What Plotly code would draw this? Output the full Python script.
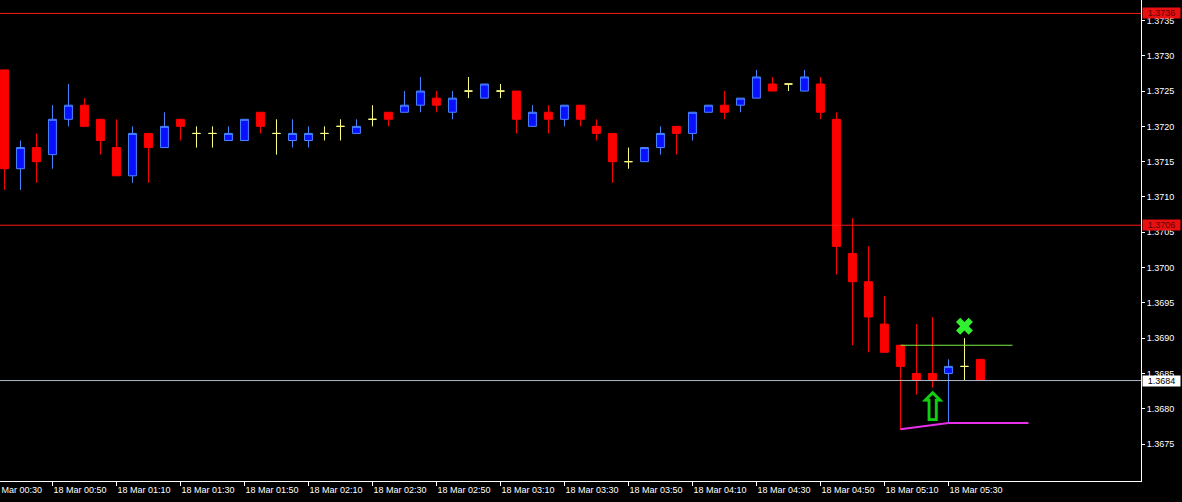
import pandas as pd
import plotly.graph_objects as go

# ---- data (5-minute bars, 18 Mar) ----
times = pd.date_range("2014-03-18 00:35", periods=62, freq="5min")
opens = [1.3728, 1.3714, 1.3717, 1.3716, 1.3721, 1.3723, 1.3721, 1.3717, 1.3713, 1.3719,
         1.3717, 1.3721, 1.3719, 1.3719, 1.3718, 1.3718, 1.3722, 1.3719, 1.3718, 1.3718,
         1.3719, 1.3720, 1.3719, 1.3721, 1.3722, 1.3722, 1.3723, 1.3724, 1.3722, 1.3725,
         1.3724, 1.3725, 1.3725, 1.3720, 1.3722, 1.3721, 1.3723, 1.3720, 1.3719, 1.3715,
         1.3715, 1.3717, 1.3720, 1.3719, 1.3722, 1.3723, 1.3723, 1.3724, 1.3726, 1.3726,
         1.3725, 1.3726, 1.3721, 1.3702, 1.3698, 1.3692, 1.3689, 1.3685, 1.3685, 1.3685,
         1.3686, 1.3687]
highs = [1.3728, 1.3718, 1.3719, 1.3723, 1.3726, 1.3724, 1.3721, 1.3721, 1.3720, 1.3719,
         1.3722, 1.3721, 1.3720, 1.3720, 1.3720, 1.3721, 1.3722, 1.3721, 1.3721, 1.3720,
         1.3720, 1.3721, 1.3721, 1.3723, 1.3722, 1.3725, 1.3727, 1.3725, 1.3725, 1.3727,
         1.3726, 1.3726, 1.3725, 1.3723, 1.3723, 1.3723, 1.3723, 1.3721, 1.3719, 1.3717,
         1.3717, 1.3720, 1.3720, 1.3722, 1.3723, 1.3725, 1.3724, 1.3728, 1.3727, 1.3726,
         1.3728, 1.3727, 1.3722, 1.3707, 1.3703, 1.3696, 1.3689, 1.3692, 1.3693, 1.3687,
         1.3690, 1.3687]
lows = [1.3711, 1.3711, 1.3712, 1.3714, 1.3720, 1.3720, 1.3716, 1.3713, 1.3712, 1.3712,
        1.3717, 1.3718, 1.3717, 1.3717, 1.3718, 1.3718, 1.3719, 1.3716, 1.3717, 1.3717,
        1.3718, 1.3718, 1.3719, 1.3720, 1.3720, 1.3722, 1.3722, 1.3722, 1.3721, 1.3724,
        1.3724, 1.3724, 1.3719, 1.3720, 1.3719, 1.3720, 1.3720, 1.3718, 1.3712, 1.3714,
        1.3715, 1.3716, 1.3716, 1.3718, 1.3722, 1.3721, 1.3722, 1.3724, 1.3725, 1.3725,
        1.3725, 1.3721, 1.3699, 1.3689, 1.3688, 1.3688, 1.3677, 1.3682, 1.3683, 1.3678,
        1.3684, 1.3684]
closes = [1.3714, 1.3717, 1.3715, 1.3721, 1.3723, 1.3720, 1.3718, 1.3713, 1.3719, 1.3717,
          1.3720, 1.3720, 1.3719, 1.3719, 1.3719, 1.3721, 1.3720, 1.3719, 1.3719, 1.3719,
          1.3719, 1.3720, 1.3720, 1.3721, 1.3721, 1.3723, 1.3725, 1.3723, 1.3724, 1.3725,
          1.3726, 1.3725, 1.3721, 1.3722, 1.3721, 1.3723, 1.3721, 1.3719, 1.3715, 1.3715,
          1.3717, 1.3719, 1.3719, 1.3722, 1.3723, 1.3722, 1.3724, 1.3727, 1.3725, 1.3726,
          1.3727, 1.3722, 1.3703, 1.3698, 1.3693, 1.3688, 1.3686, 1.3684, 1.3684, 1.3686,
          1.3686, 1.3684]

# horizontal levels
red_levels = [1.3736, 1.3706]
bid_price = 1.3684
# indicator objects
green_line_t = ["2014-03-18 05:15", "2014-03-18 05:50"]
green_line_p = [1.3689, 1.3689]
magenta_t = ["2014-03-18 05:15", "2014-03-18 05:30", "2014-03-18 05:55"]
magenta_p = [1.36771, 1.36780, 1.36780]
arrow_t, arrow_p = "2014-03-18 05:25", 1.36797
cross_t, cross_p = "2014-03-18 05:35", 1.36917

# axis ticks
y_ticks = [1.3675, 1.3680, 1.3685, 1.3690, 1.3695, 1.3700, 1.3705, 1.3710,
           1.3715, 1.3720, 1.3725, 1.3730, 1.3735]
x_tick_times = pd.date_range("2014-03-18 00:50", "2014-03-18 05:30", freq="20min")
x_tick_text = ["18 Mar " + t.strftime("%H:%M") for t in x_tick_times]
first_label = "18 Mar 00:30"

# ---- split bars ----
def pick(cond):
    idx = [i for i in range(len(opens)) if cond(opens[i], closes[i])]
    return ([times[i] for i in idx], [opens[i] for i in idx], [highs[i] for i in idx],
            [lows[i] for i in idx], [closes[i] for i in idx])

BLUE_FILL, BLUE_LINE = "#0a10ff", "#4a86ff"
RED = "#ff0000"
DOJI = "#ffff88"

fig = go.Figure()
for cond, line_c, fill_c in [
    (lambda o, c: c > o, BLUE_LINE, BLUE_FILL),
    (lambda o, c: c < o, RED, RED),
    (lambda o, c: c == o, DOJI, DOJI),
]:
    t, o, h, l, c = pick(cond)
    fig.add_trace(go.Candlestick(
        x=t, open=o, high=h, low=l, close=c,
        increasing=dict(line=dict(color=line_c, width=1), fillcolor=fill_c),
        decreasing=dict(line=dict(color=line_c, width=1), fillcolor=fill_c),
        whiskerwidth=0, hoverinfo="skip", showlegend=False,
    ))

for lv in red_levels:
    fig.add_hline(y=lv, line=dict(color="#ff1818", width=1))
fig.add_hline(y=bid_price, line=dict(color="#b0b8c4", width=1))

fig.add_trace(go.Scatter(x=green_line_t, y=green_line_p, mode="lines",
                         line=dict(color="#7cf040", width=1), hoverinfo="skip"))
fig.add_trace(go.Scatter(x=magenta_t, y=magenta_p, mode="lines",
                         line=dict(color="#e830e8", width=2), hoverinfo="skip"))
fig.add_trace(go.Scatter(x=[arrow_t], y=[arrow_p], mode="text", text=["⇧"],
                         textfont=dict(family="DejaVu Sans", size=40, color="#10d010",
                                       weight="bold"),
                         textposition="middle center", hoverinfo="skip"))
fig.add_trace(go.Scatter(x=[cross_t], y=[cross_p], mode="markers",
                         marker=dict(symbol="x", size=15, color="#30f030",
                                     line=dict(width=0)), hoverinfo="skip"))

# price labels on the right axis
for lv in red_levels:
    fig.add_annotation(xref="paper", x=1, xanchor="left", xshift=1, y=lv, yref="y",
                       text=f"{lv:.4f}", showarrow=False, bgcolor="#e81010",
                       width=37, height=10, borderpad=0,
                       font=dict(family="Liberation Sans", size=9, color="#600000"))
fig.add_annotation(xref="paper", x=1, xanchor="left", xshift=1, y=bid_price, yref="y",
                   text=f"{bid_price:.4f}", showarrow=False, bgcolor="#ffffff",
                   width=37, height=10, borderpad=0,
                   font=dict(family="Liberation Sans", size=9, color="#000000"))
# clipped first time label at the left edge
fig.add_annotation(xref="paper", x=-13 / 1141, xanchor="left", yref="paper", y=0,
                   yanchor="top", yshift=-2, text=first_label, showarrow=False,
                   font=dict(family="Liberation Sans", size=9, color="#ffffff"))

fig.update_layout(
    width=1182, height=502,
    margin=dict(l=0, r=41, t=0, b=21),
    paper_bgcolor="#000000", plot_bgcolor="#000000",
    showlegend=False,
    font=dict(family="Liberation Sans", size=9, color="#ffffff"),
    xaxis=dict(
        type="date", range=["2014-03-18 00:33:36", "2014-03-18 06:30:10"],
        rangeslider=dict(visible=False), showgrid=False, zeroline=False,
        showline=True, linecolor="#ffffff", linewidth=1,
        tickvals=list(x_tick_times), ticktext=x_tick_text,
        ticks="outside", ticklen=4, tickcolor="#ffffff",
        ticklabelposition="outside right",
        tickfont=dict(family="Liberation Sans", size=9, color="#ffffff"),
    ),
    yaxis=dict(
        side="right", range=[1.366977, 1.37379], showgrid=False, zeroline=False,
        showline=True, linecolor="#ffffff", linewidth=1,
        tickvals=y_ticks, tickformat=".4f",
        ticks="outside", ticklen=3, tickcolor="#ffffff",
        tickfont=dict(family="Liberation Sans", size=9, color="#ffffff"),
    ),
)

fig.write_html("out.html", config={"displayModeBar": False},
               post_script="document.body.style.margin='0';"
                           "document.body.style.background='#000';")
